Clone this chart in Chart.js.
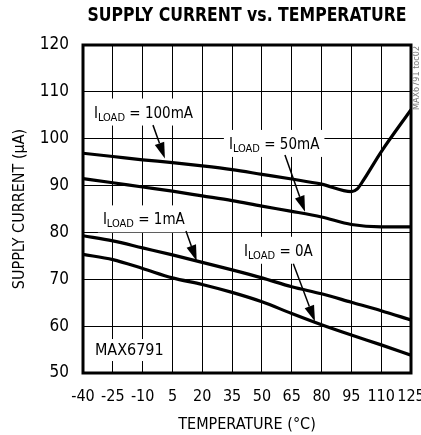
<!DOCTYPE html>
<html>
<head>
<meta charset="utf-8">
<script src="https://cdn.jsdelivr.net/npm/chart.js@4"></script>
<style>
  html, body { margin: 0; padding: 0; background: #fff; }
  #wrap { width: 421px; height: 435px; position: relative; }
</style>
</head>
<body>
<div id="wrap"><canvas id="chart"></canvas></div>
<script>
const FONT = "'DejaVu Sans Condensed', 'Liberation Sans Narrow', sans-serif";

// temperature (°C) sample points
const temps = [-40, -25, -10, 5, 20, 35, 50, 65, 80, 95, 110, 125];
const temps100 = [-40, -25, -10, 5, 20, 35, 50, 65, 80, 95, 98, 101, 110, 125];

// supply current (µA)
const iLoad0A = [75.3, 74.2, 72.3, 70.3, 68.9, 67.2, 65.2, 62.7, 60.3, 58.1, 56.0, 53.8];
const iLoad1mA = [79.3, 78.2, 76.7, 75.2, 73.6, 72.0, 70.3, 68.4, 66.9, 65.1, 63.3, 61.3];
const iLoad50mA = [91.5, 90.6, 89.7, 88.8, 87.8, 86.8, 85.6, 84.5, 83.3, 81.7, 81.2, 81.2];
const iLoad100mA = [96.9, 96.2, 95.5, 94.9, 94.2, 93.4, 92.4, 91.4, 90.3, 88.7, 89.3, 91.1, 97.2, 106.2];

const xTicks = [-40, -25, -10, 5, 20, 35, 50, 65, 80, 95, 110, 125];
const yTicks = [50, 60, 70, 80, 90, 100, 110, 120];

// curve labels: [load text, label x (°C), label y (µA), arrow from (°C, µA), arrow to (°C, µA)]
const labels = [
  ['100mA', -34.5, 105.8, [-4.8, 102.9], [1.2, 95.8]],
  ['50mA', 33.4, 99.1, [61.6, 96.5], [71.7, 84.4]],
  ['1mA', -30.0, 83.0, [11.8, 80.3], [17.2, 73.9]],
  ['0A', 41.0, 76.3, [65.8, 73.3], [76.7, 61.0]]
];

const pts = (xs, ys) => xs.map((x, i) => ({ x: x, y: ys[i] }));

const line = (data) => ({
  data: data,
  borderColor: '#000',
  borderWidth: 3.2,
  pointRadius: 0,
  fill: false,
  cubicInterpolationMode: 'monotone'
});

function drawLoadLabel(ctx, text, x, y) {
  // "I" + subscript "LOAD" + " = ..." on a white box
  ctx.font = '15px ' + FONT;
  const wI = ctx.measureText('I').width;
  ctx.font = '11px ' + FONT;
  const wSub = ctx.measureText('LOAD').width;
  ctx.font = '15px ' + FONT;
  const rest = ' = ' + text;
  const wRest = ctx.measureText(rest).width;
  const w = wI + wSub + wRest;
  ctx.fillStyle = '#fff';
  ctx.fillRect(x - 5, y - 13, w + 10, 27);
  ctx.fillStyle = '#000';
  ctx.textBaseline = 'alphabetic';
  ctx.textAlign = 'left';
  ctx.fillText('I', x, y + 6);
  ctx.font = '11px ' + FONT;
  ctx.fillText('LOAD', x + wI, y + 9);
  ctx.font = '15px ' + FONT;
  ctx.fillText(rest, x + wI + wSub, y + 6);
}

function drawArrow(ctx, x1, y1, x2, y2) {
  const a = Math.atan2(y2 - y1, x2 - x1);
  const len = 16, half = 5;
  const bx = x2 - len * Math.cos(a), by = y2 - len * Math.sin(a);
  ctx.strokeStyle = '#000';
  ctx.lineWidth = 1.5;
  ctx.beginPath();
  ctx.moveTo(x1, y1);
  ctx.lineTo(bx, by);
  ctx.stroke();
  ctx.fillStyle = '#000';
  ctx.beginPath();
  ctx.moveTo(x2, y2);
  ctx.lineTo(bx + half * Math.sin(a), by - half * Math.cos(a));
  ctx.lineTo(bx - half * Math.sin(a), by + half * Math.cos(a));
  ctx.closePath();
  ctx.fill();
}

const decor = {
  id: 'decor',
  beforeDatasetsDraw(chart) {
    const { ctx, scales: { x, y } } = chart;
    ctx.save();
    labels.forEach(l => {
      drawLoadLabel(ctx, l[0], x.getPixelForValue(l[1]), y.getPixelForValue(l[2]));
    });
    // part number inside plot
    const mx = x.getPixelForValue(-34), my = y.getPixelForValue(54.9);
    ctx.font = '16px ' + FONT;
    const mw = ctx.measureText('MAX6791').width;
    ctx.fillStyle = '#fff';
    ctx.fillRect(mx - 4, my - 11, mw + 8, 22);
    ctx.fillStyle = '#000';
    ctx.textBaseline = 'middle';
    ctx.textAlign = 'left';
    ctx.fillText('MAX6791', mx, my + 1);
    ctx.restore();
  },
  afterDatasetsDraw(chart) {
    const { ctx, chartArea: a, scales: { x, y } } = chart;
    ctx.save();
    labels.forEach(l => {
      drawArrow(ctx, x.getPixelForValue(l[3][0]), y.getPixelForValue(l[3][1]),
        x.getPixelForValue(l[4][0]), y.getPixelForValue(l[4][1]));
    });
    // plot frame
    ctx.strokeStyle = '#000';
    ctx.lineWidth = 3;
    ctx.strokeRect(a.left, a.top, a.right - a.left, a.bottom - a.top);
    // title
    ctx.fillStyle = '#000';
    ctx.textAlign = 'center';
    ctx.textBaseline = 'middle';
    ctx.font = 'bold 20px ' + FONT;
    const t = 'SUPPLY CURRENT vs. TEMPERATURE';
    const sx = 319 / ctx.measureText(t).width;
    ctx.save();
    ctx.translate((a.left + a.right) / 2, 16);
    ctx.scale(sx, 1);
    ctx.fillText(t, 0, 0);
    ctx.restore();
    // figure id at the right edge
    ctx.save();
    ctx.translate(417, 78);
    ctx.rotate(-Math.PI / 2);
    ctx.fillStyle = '#777';
    ctx.font = '9px ' + FONT;
    ctx.fillText('MAX6791 toc02', 0, 0);
    ctx.restore();
    ctx.restore();
  }
};

new Chart(document.getElementById('chart'), {
  type: 'line',
  data: {
    datasets: [
      line(pts(temps100, iLoad100mA)),
      line(pts(temps, iLoad50mA)),
      line(pts(temps, iLoad1mA)),
      line(pts(temps, iLoad0A))
    ]
  },
  plugins: [decor],
  options: {
    responsive: true,
    maintainAspectRatio: false,
    animation: false,
    events: [],
    layout: { padding: { top: 45, right: 10, left: 0, bottom: 0 } },
    plugins: { legend: { display: false }, tooltip: { enabled: false } },
    scales: {
      x: {
        type: 'linear',
        min: -40, max: 125,
        afterBuildTicks: s => { s.ticks = xTicks.map(v => ({ value: v })); },
        afterFit: s => { s.height = 62; s.paddingLeft = 0; s.paddingRight = 0; },
        grid: { color: '#000', lineWidth: 1, drawTicks: false },
        border: { display: false },
        ticks: { color: '#000', padding: 14, maxRotation: 0, autoSkip: false, font: { family: FONT, size: 16 } },
        title: { display: true, text: 'TEMPERATURE (°C)', color: '#000', padding: { top: 2, bottom: 1 }, font: { family: FONT, size: 16 } }
      },
      y: {
        min: 50, max: 120,
        afterBuildTicks: s => { s.ticks = yTicks.map(v => ({ value: v })); },
        afterFit: s => { s.width = 83; s.paddingTop = 0; s.paddingBottom = 0; },
        grid: { color: '#000', lineWidth: 1, drawTicks: false },
        border: { display: false },
        ticks: { color: '#000', padding: 14, font: { family: FONT, size: 17 } },
        title: { display: true, text: 'SUPPLY CURRENT (µA)', color: '#000', padding: { top: 10, bottom: 0 }, font: { family: FONT, size: 16 } }
      }
    }
  }
});
</script>
</body>
</html>
